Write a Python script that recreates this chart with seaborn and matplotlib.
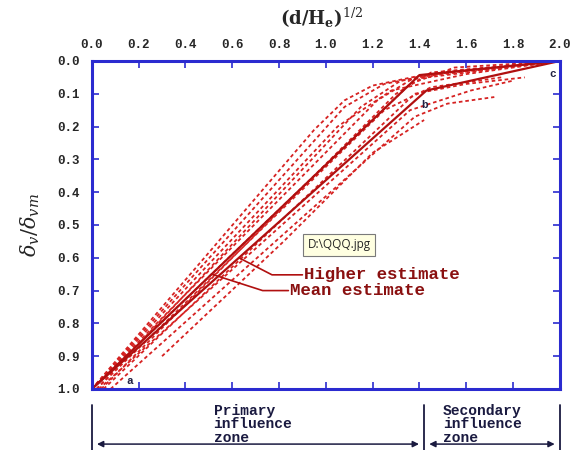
import numpy as np
import pandas as pd
import matplotlib
matplotlib.use('Agg')
import matplotlib.pyplot as plt
import seaborn as sns

# ---------------- data ----------------
# solid estimate lines: x = (d/He)^1/2 , y = dv/dvm
mean_x = [0.00, 1.40, 2.00]
mean_y = [1.00, 0.043, 0.00]
high_x = [0.00, 1.43, 2.00]
high_y = [1.00, 0.090, 0.00]

# dashed lines (individual case records)
dashed_x = [
    [0.00, 0.95, 1.08, 1.20, 1.40, 2.00],
    [0.00, 1.05, 1.28, 1.60, 2.00],
    [0.00, 1.08, 1.25, 1.50, 2.00],
    [0.02, 1.15, 1.32, 2.00],
    [0.00, 1.22, 1.38, 2.00],
    [0.04, 1.30, 1.45, 2.00],
    [0.02, 1.25, 1.45, 1.75],
    [0.00, 1.36, 1.55, 2.00],
    [0.05, 1.38, 1.60, 1.85],
    [0.03, 1.36, 1.62, 1.80],
    [0.08, 1.38, 1.52, 1.72],
    [0.30, 0.82, 1.20, 1.42],
]
dashed_y = [
    [1.00, 0.21, 0.12, 0.075, 0.045, 0.00],
    [1.00, 0.20, 0.09, 0.04, 0.00],
    [1.00, 0.14, 0.07, 0.035, 0.00],
    [1.00, 0.14, 0.06, 0.00],
    [1.00, 0.12, 0.05, 0.00],
    [1.00, 0.10, 0.035, 0.00],
    [1.00, 0.15, 0.08, 0.05],
    [1.00, 0.07, 0.02, 0.00],
    [1.00, 0.10, 0.07, 0.05],
    [1.00, 0.15, 0.09, 0.06],
    [1.00, 0.17, 0.13, 0.11],
    [0.90, 0.55, 0.28, 0.18],
]

x_ticks = [0.0, 0.2, 0.4, 0.6, 0.8, 1.0, 1.2, 1.4, 1.6, 1.8, 2.0]
y_ticks = [0.0, 0.1, 0.2, 0.3, 0.4, 0.5, 0.6, 0.7, 0.8, 0.9, 1.0]

point_labels = ['a', 'b', 'c']
point_x = [0.16, 1.42, 1.97]
point_y = [0.975, 0.135, 0.04]

zone_edges = [0.0, 1.42, 2.0]
zone_names = ['Primary\ninfluence\nzone', 'Secondary\ninfluence\nzone']
zone_text_x = [0.52, 1.50]

# ---------------- plot ----------------
sns.set_style('white')
plt.rcParams['font.family'] = ['Liberation Mono', 'DejaVu Sans']
plt.rcParams['mathtext.fontset'] = 'dejavuserif'

red = '#d62222'
dark_red = '#b01010'
blue = '#2b2bd0'

fig = plt.figure(figsize=(5.74, 4.5), dpi=100)
ax = fig.add_axes([0.160, 0.1356, 0.8153, 0.7289])

rows = []
for i, (xs, ys) in enumerate(zip(dashed_x, dashed_y)):
    for xv, yv in zip(xs, ys):
        rows.append({'line': i, 'x': xv, 'y': yv})
dash_df = pd.DataFrame(rows)

for i, grp in dash_df.groupby('line'):
    sns.lineplot(data=grp, x='x', y='y', sort=False, estimator=None, ax=ax,
                 color=red, linewidth=1.3, linestyle=(0, (2.0, 1.6)))

sns.lineplot(x=mean_x, y=mean_y, sort=False, estimator=None, ax=ax,
             color=dark_red, linewidth=1.6)
sns.lineplot(x=high_x, y=high_y, sort=False, estimator=None, ax=ax,
             color=dark_red, linewidth=1.6)

ax.set_xlim(0, 2.0)
ax.set_ylim(1.0, 0.0)
ax.set_xlabel('')
ax.set_ylabel('')

ax.xaxis.tick_top()
ax.set_xticks(x_ticks)
ax.set_yticks(y_ticks)
ax.set_xticklabels(['%.1f' % v for v in x_ticks])
ax.set_yticklabels(['%.1f' % v for v in y_ticks])
ax.tick_params(axis='both', direction='in', length=5, width=1.2, color=blue,
               labelsize=9, top=True, bottom=True, left=True, right=True)
ax.tick_params(axis='x', pad=7)
ax.tick_params(axis='y', pad=9)
for lab in ax.get_xticklabels() + ax.get_yticklabels():
    lab.set_fontweight('bold')
for sp in ax.spines.values():
    sp.set_color(blue)
    sp.set_linewidth(2.2)

# leader lines for the two estimates
hx = np.interp(0.60, high_y[::-1], high_x[::-1])
mx = np.interp(0.65, mean_y[::-1], mean_x[::-1])
ax.plot([hx, 0.77, 0.90], [0.60, 0.652, 0.652], color=dark_red, lw=1.2)
ax.plot([mx, 0.73, 0.84], [0.65, 0.70, 0.70], color=dark_red, lw=1.2)
ax.text(0.905, 0.652, 'Higher estimate', color='#8a1010', fontsize=12.5,
        fontweight='bold', va='center', ha='left')
ax.text(0.845, 0.70, 'Mean estimate', color='#8a1010', fontsize=12.5,
        fontweight='bold', va='center', ha='left')

for t, xv, yv in zip(point_labels, point_x, point_y):
    ax.text(xv, yv, t, fontsize=8, fontweight='bold', color='#222244',
            ha='center', va='center')

# zones below the chart
trans = ax.get_xaxis_transform()
for xe in zone_edges:
    ax.plot([xe, xe], [-0.05, -0.19], transform=trans, color='#1a1a40',
            lw=1.3, clip_on=False)
for j, name in enumerate(zone_names):
    x0, x1 = zone_edges[j], zone_edges[j + 1]
    ax.annotate('', xy=(x0 + 0.01, -0.168), xytext=(x1 - 0.01, -0.168),
                xycoords=trans, textcoords=trans,
                arrowprops=dict(arrowstyle='<|-|>', color='#1a1a40', lw=1.1,
                                mutation_scale=9))
    ax.text(zone_text_x[j], -0.045, name, transform=trans, fontsize=10.5,
            fontweight='bold', color='#1a1a40', ha='left', va='top',
            linespacing=0.95)

fig.text(322 / 574, 1 - 18 / 450, r'(d/H$_\mathregular{e}$)$^{1/2}$',
         fontsize=13, family='DejaVu Serif', fontweight='bold',
         ha='center', va='center')
fig.text(30 / 574, 0.5, r'$\delta_v/\delta_{vm}$', fontsize=15, rotation=90,
         ha='center', va='center')

# screenshot tooltip visible in the reference
fig.text(339 / 574, 1 - 245 / 450, 'D:\\QQQ.jpg', fontsize=8.5,
         family='Open Sans', ha='center', va='center',
         bbox=dict(boxstyle='square,pad=0.35', fc='#ffffe1', ec='#7a7a7a',
                   lw=0.8))

fig.savefig('out.png', dpi=100)
